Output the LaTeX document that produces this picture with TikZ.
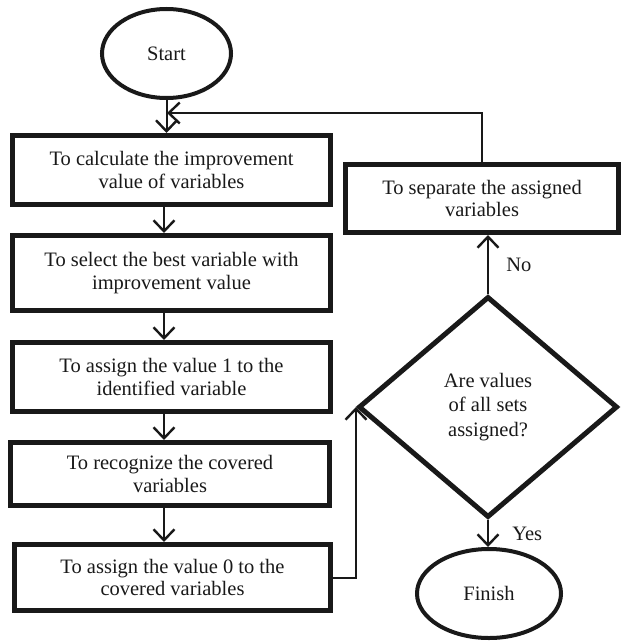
\documentclass[tikz,border=0pt]{standalone}
\usepackage{fontspec}
\setmainfont{Liberation Serif}
\usetikzlibrary{shapes.geometric,arrows.meta}

\begin{document}
\begin{tikzpicture}[
  x=1pt, y=-1pt,
  every node/.style={font=\fontsize{20.5}{22.5}\selectfont, text=black!90},
  procbox/.style={draw=black!90, rectangle, line width=5pt, align=center, inner sep=0pt},
  terminal/.style={draw=black!90, ellipse, line width=4pt, inner sep=0pt},
  decision/.style={draw=black!90, diamond, line width=5pt, align=center, inner sep=0pt,
    font=\fontsize{20.5}{24.5}\selectfont},
  arr/.style={draw=black!90, line width=2pt,
    -{Straight Barb[length=11pt,width=21pt,line width=2.4pt]}},
  flow/.style={draw=black!90, line width=2pt}
]
\useasboundingbox (0,0) rectangle (622,642);

% terminals
\node[terminal, minimum width=129pt, minimum height=89pt] (start) at (166.5,53.5) {Start};
\node[terminal, minimum width=144pt, minimum height=89pt] (finish) at (489,593.5) {Finish};

% main column of process steps
\node[procbox, minimum width=318pt, minimum height=69pt] (b1) at (171.5,170)
  {To calculate the improvement\\value of variables};
\node[procbox, minimum width=318pt, minimum height=75pt] (b2) at (171.5,273)
  {To select the best variable with\\improvement value};
\node[procbox, minimum width=318pt, minimum height=69pt] (b3) at (171.5,377)
  {To assign the value 1 to the\\identified variable};
\node[procbox, minimum width=319pt, minimum height=63pt] (b4) at (170,474)
  {To recognize the covered\\variables};
\node[procbox, minimum width=316pt, minimum height=66pt] (b5) at (172.5,577.5)
  {To assign the value 0 to the\\covered variables};

% right branch
\node[procbox, minimum width=273pt, minimum height=68pt] (sep) at (482,198.5)
  {To separate the assigned\\variables};
\node[decision, minimum width=259pt, minimum height=221pt] (dec) at (488,407)
  {Are values\\of all sets\\assigned?};

% helper points
\coordinate (col) at (164,0);
\coordinate (join) at (167,113);

% connectors
\draw[arr] (start.south) -- (start.south |- b1.north);
\draw[arr] (b1.south -| col) -- (b2.north -| col);
\draw[arr] (b2.south -| col) -- (b3.north -| col);
\draw[arr] (b3.south -| col) -- (b4.north -| col);
\draw[arr] (b4.south -| col) -- (b5.north -| col);
\draw[arr] (b5.east) -| (dec.west);
\draw[arr] (dec.north) -- (dec.north |- sep.south) node[midway, right=14pt] {No};
\draw[arr] (dec.south) -- (dec.south |- finish.north) node[midway, right=20pt] {Yes};
\draw[arr] (sep.north) |- (join);
\end{tikzpicture}
\end{document}
